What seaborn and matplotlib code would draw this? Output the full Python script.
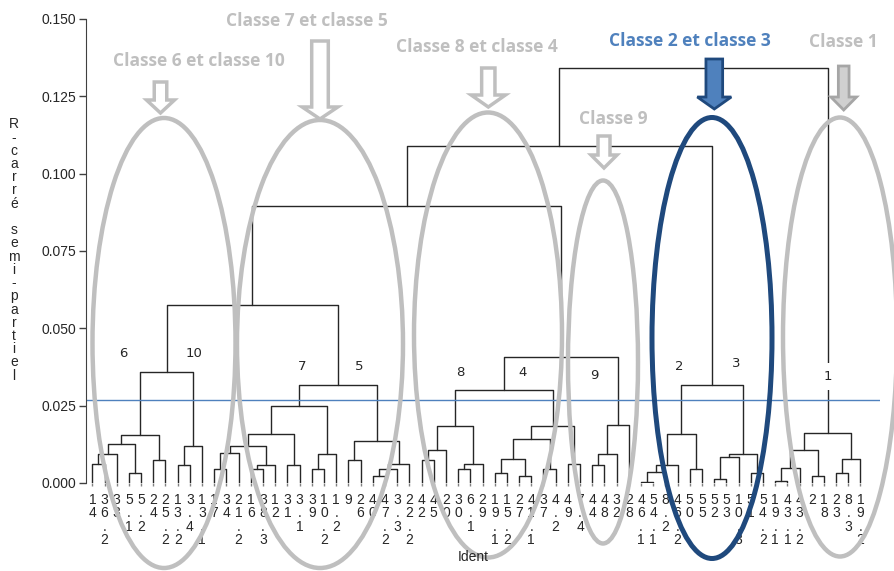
import numpy as np
import pandas as pd
import seaborn as sns
import matplotlib.pyplot as plt
from matplotlib.patches import Ellipse, Polygon

# feuilles du dendrogramme (ordre d'affichage)
leaf_labels = [
    "14", "36.2", "33", "5.1", "5.2", "24", "25.2", "13.2", "3.4", "13.1", "17",
    "34", "21.2", "16", "38.3", "12", "31", "3.1", "39", "10.2", "1.2", "9",
    "26", "40", "47.2", "3.3", "22.2", "42", "45", "20", "30", "6.1", "29",
    "19.1", "15.2", "27", "41.1", "37", "4.2", "49", "7.4", "44", "48", "32",
    "28", "46.1", "54.1", "8.2", "46.2", "50", "55", "52", "53", "10.3", "51",
    "54.2", "19.1", "43.1", "43.2", "2", "18", "23", "8.3", "19.2",
]

# fusions : (gauche, droite, hauteur), id des noeuds = 64 + rang
merge_left = [0, 64, 3, 65, 5, 67, 7, 70, 69,
              10, 73, 13, 75, 74, 16, 77, 18, 80, 79,
              21, 23, 84, 85, 83, 82, 72,
              27, 90, 30, 92, 91,
              33, 35, 95, 37, 97, 39, 99, 94,
              41, 103, 104, 102, 89,
              45, 108, 109, 49, 110,
              51, 113, 54, 114, 112, 107,
              56, 119, 59, 120, 61, 123, 122, 118]
merge_right = [1, 2, 4, 66, 6, 68, 8, 9, 71,
               11, 12, 14, 15, 76, 17, 78, 19, 20, 81,
               22, 24, 25, 26, 86, 87, 88,
               28, 29, 31, 32, 93,
               34, 36, 96, 38, 98, 40, 100, 101,
               42, 43, 44, 105, 106,
               46, 47, 48, 50, 111,
               52, 53, 55, 115, 116, 117,
               57, 58, 60, 121, 62, 63, 124, 125]
merge_height = [0.0061, 0.0095, 0.0031, 0.0127, 0.0074, 0.0154, 0.0058, 0.0118, 0.0359,
                0.0044, 0.0096, 0.0044, 0.0058, 0.0118, 0.0058, 0.0160, 0.0044, 0.0093, 0.0248,
                0.0073, 0.0023, 0.0044, 0.0061, 0.0136, 0.0316, 0.0575,
                0.0073, 0.0108, 0.0044, 0.0063, 0.0185,
                0.0033, 0.0023, 0.0077, 0.0044, 0.0142, 0.0061, 0.0185, 0.0301,
                0.0057, 0.0093, 0.0187, 0.0408, 0.0897,
                0.0003, 0.0034, 0.0057, 0.0044, 0.0160,
                0.0012, 0.0084, 0.0033, 0.0093, 0.0317, 0.1091,
                0.0006, 0.0050, 0.0023, 0.0106, 0.0033, 0.0077, 0.0163, 0.1340]
cut_height = 0.0269

class_names = ["6", "10", "7", "5", "8", "4", "9", "2", "3", "1"]
class_x = [2.5, 8.3, 17.2, 21.9, 30.2, 35.3, 41.2, 48.1, 52.8, 60.3]
class_y = [0.0418, 0.0418, 0.0376, 0.0376, 0.0356, 0.0356, 0.0347, 0.0376, 0.0385, 0.0343]

# segments du dendrogramme
n = len(leaf_labels)
node_x = [float(i) for i in range(n)]
node_h = [0.0] * n
rows = []
for k, (a, b, h) in enumerate(zip(merge_left, merge_right, merge_height)):
    pts = [(node_x[a], node_h[a]), (node_x[a], h), (node_x[b], h), (node_x[b], node_h[b])]
    for j, (x, y) in enumerate(pts):
        rows.append({"seg": k, "ordre": j, "x": x, "y": y})
    node_x.append((node_x[a] + node_x[b]) / 2)
    node_h.append(h)
segs = pd.DataFrame(rows)

sns.set_style("white")
plt.rcParams["font.family"] = ["Liberation Sans", "DejaVu Sans"]

W, H = 895, 571
fig = plt.figure(figsize=(W / 100, H / 100), dpi=100)
ax = fig.add_axes([86 / W, 1 - 483 / H, (880 - 86) / W, (483 - 19) / H])

sns.lineplot(data=segs, x="x", y="y", units="seg", estimator=None, sort=False,
             color="#262626", lw=1, ax=ax)
ax.axhline(cut_height, color="#4f81bd", lw=1)

for name, x, y in zip(class_names, class_x, class_y):
    bb = dict(fc="white", ec="none", pad=5) if name == "1" else None
    ax.text(x, y, name, ha="center", va="center", fontsize=9.5, color="#262626",
            family="DejaVu Sans", bbox=bb)

ax.set_xlim(-0.52, 64.6)
ax.set_ylim(0, 0.15)
ax.set_yticks(np.arange(0, 0.151, 0.025))
ax.set_yticklabels([f"{v:.3f}" for v in np.arange(0, 0.151, 0.025)], fontsize=10)
ax.set_xticks(range(n))
ax.set_xticklabels(["\n".join(l) for l in leaf_labels], fontsize=10, linespacing=0.95,
                   va="top")
ax.tick_params(axis="y", left=True, length=5, width=1, color="#404040", pad=2)
ax.tick_params(axis="x", bottom=True, length=2, width=1, color="#808080", pad=5)
ax.set_xlabel("")
ax.set_ylabel("")
for s in ["top", "right", "bottom"]:
    ax.spines[s].set_visible(False)
ax.spines["left"].set_color("#404040")

# calque en pixels pour les annotations
ov = fig.add_axes([0, 0, 1, 1], zorder=5)
ov.set_xlim(0, W)
ov.set_ylim(H, 0)
ov.axis("off")
ov.patch.set_alpha(0)

ov.text(473, 557, "Ident", ha="center", va="center", fontsize=10, color="#262626")
ov.text(14, 250, "\n".join("R-carré semi-partiel"), ha="center", va="center",
        fontsize=10, linespacing=0.93, color="#262626")

gris = "#bfbfbf"
bleu = "#1f497d"
ellipses = [(164, 343, 143, 450, gris), (320, 344, 166, 448, gris), (488, 335, 148, 445, gris),
            (603, 362, 70, 363, gris), (712, 338, 120, 441, bleu), (840, 337, 114, 439, gris)]
for cx, cy, w, h, c in ellipses:
    ov.add_patch(Ellipse((cx, cy), w, h, fill=False, ec=c, lw=3.6 if c == bleu else 3.2,
                         clip_on=False))


def fleche(xc, y0, sw, yh, hw, y1, fc, ec, lw):
    pts = [(xc - sw / 2, y0), (xc + sw / 2, y0), (xc + sw / 2, yh), (xc + hw / 2, yh),
           (xc, y1), (xc - hw / 2, yh), (xc - sw / 2, yh)]
    ov.add_patch(Polygon(pts, closed=True, fc=fc, ec=ec, lw=lw, joinstyle="miter"))


fleche(160.5, 82, 12.5, 100, 28, 113, "white", gris, 2.5)
fleche(320, 41, 16.6, 107, 35.6, 119, "white", gris, 2.5)
fleche(488.3, 68, 13.3, 95, 34.3, 107, "white", gris, 2.5)
fleche(604, 136, 12, 155, 26, 168, "white", gris, 2.5)
fleche(714.3, 59, 16.7, 97, 34, 109, "#4f81bd", bleu, 2)
fleche(843.7, 66, 10.7, 97, 25.7, 110, "#d0d0d0", "#a6a6a6", 2)

titres = [("Classe 6 et classe 10", 199, 61, gris), ("Classe 7 et classe 5", 307, 21, gris),
          ("Classe 8 et classe 4", 477, 47, gris), ("Classe 9", 613, 119, gris),
          ("Classe 2 et classe 3", 690, 41, "#4f81bd"), ("Classe 1", 843, 42, gris)]
for t, x, y, c in titres:
    ov.text(x, y, t, ha="center", va="center", fontsize=12.5, fontweight="bold",
            color=c, family="Open Sans")

fig.savefig("out.png", dpi=100)
